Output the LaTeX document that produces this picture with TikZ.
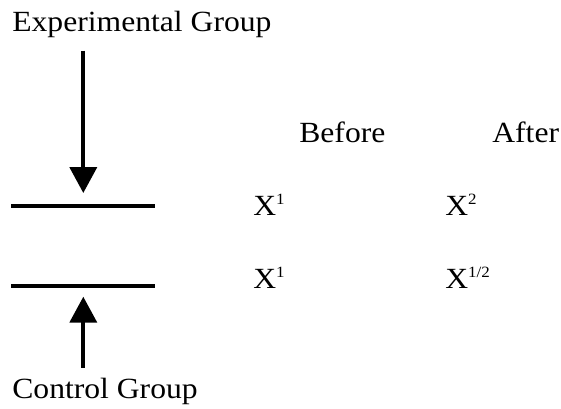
\documentclass[tikz,border=0pt]{standalone}
\usepackage{fontspec}
\setmainfont{Liberation Serif}[FakeStretch=1.08]
\usetikzlibrary{arrows.meta}
\newcommand{\supx}[1]{\raisebox{0.33cm}{\fontsize{13.4}{15}\selectfont #1}}
\tikzset{
  every picture/.style={line width=0.6pt},
  lbl/.style={font=\fontsize{25}{30}\selectfont,inner sep=0pt,anchor=base west},
  bar/.style={line width=0.105cm},
  push/.style={-{Triangle[length=0.78cm,width=0.81cm]},line width=0.12cm},
}

\begin{document}
\begin{tikzpicture}[x=0.03cm,y=-0.03cm]
\useasboundingbox (0,0) rectangle (561,408);
% group labels
\node[lbl] (exp) at (12,31) {Experimental Group};
\node[lbl] (ctl) at (12,398) {Control Group};
% bars
\coordinate (b1l) at (11,206); \coordinate (b1r) at (155,206);
\coordinate (b2l) at (11,286); \coordinate (b2r) at (155,286);
\draw[bar] (b1l) -- (b1r);
\draw[bar] (b2l) -- (b2r);
% arrows onto the bars
\coordinate (ea) at (83.3,50.7); \coordinate (eb) at (83.3,193);
\coordinate (ca) at (83.3,367.7); \coordinate (cb) at (83.3,296.7);
\draw[push] (ea) -- (eb);
\draw[push] (ca) -- (cb);
% measurements
\node[lbl] (bef) at (299,142) {Before};
\node[lbl] (aft) at (492,142) {After};
\node[lbl] (e1) at (253,215) {X\supx{1}};
\node[lbl] (e2) at (445,215) {X\supx{2}};
\node[lbl] (c1) at (253,288) {X\supx{1}};
\node[lbl] (c2) at (445,288) {X\supx{1/2}};
\end{tikzpicture}
\end{document}
